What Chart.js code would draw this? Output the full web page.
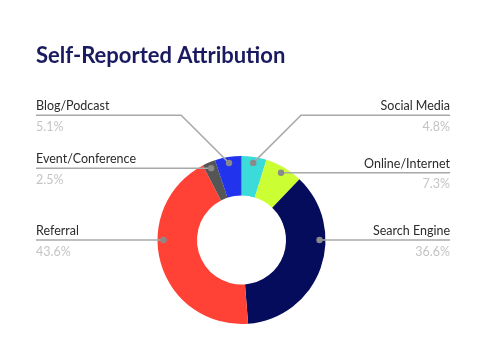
<!DOCTYPE html>
<html>
<head>
<meta charset="utf-8">
<script src="https://cdn.jsdelivr.net/npm/chart.js@4"></script>
<style>
  html, body { margin: 0; padding: 0; background: #fff; }
  #wrap { width: 483px; height: 362px; }
</style>
</head>
<body>
<div id="wrap"><canvas id="attrChart" width="483" height="362"></canvas></div>
<script>
let categories = ["Social Media", "Online/Internet", "Search Engine", "Referral", "Event/Conference", "Blog/Podcast"];
let shares     = [4.8, 7.3, 36.6, 43.6, 2.5, 5.1];
let colors     = ["#3adbd8", "#ccff33", "#050c5c", "#ff4136", "#555555", "#2233ee"];

// outside labels with leader lines, drawn from the arc elements
const outLabels = {
  id: "outLabels",
  afterDraw(chart) {
    let ctx  = chart.ctx;
    let arcs = chart.getDatasetMeta(0).data;
    let leftX = 36, rightX = 450, gap = 53;

    let items = arcs.map((arc, i) => {
      let a = (arc.startAngle + arc.endAngle) / 2;
      // big slices crossing the horizontal get their dot right on it
      [0, Math.PI, Math.PI * 2].forEach(h => {
        if (arc.startAngle < h && arc.endAngle > h) a = h;
      });
      let r  = arc.outerRadius - 6;
      let px = arc.x + Math.cos(a) * r;
      let py = arc.y + Math.sin(a) * r;
      return { i: i, px: px, py: py, y: py, right: px > arc.x };
    });

    // push colliding labels upward, one side at a time
    let pushed = [];
    [true, false].forEach(side => {
      let list = items.filter(it => it.right === side).sort((a, b) => b.py - a.py);
      for (let k = 1; k < list.length; k++) {
        if (list[k - 1].y - list[k].y < gap) {
          list[k].y = list[k - 1].y - gap;
          pushed.push(list[k]);
        }
      }
    });
    if (pushed.length) {
      let top = Math.min(...pushed.map(p => p.y));
      pushed.forEach(p => p.y = top);
    }

    ctx.save();
    items.forEach(it => {
      let endX = it.right ? rightX : leftX;
      ctx.strokeStyle = "#a8a8a8";
      ctx.lineWidth = 1.5;
      ctx.beginPath();
      ctx.moveTo(it.px, it.py);
      let dy = it.py - it.y;
      if (dy > 1) {
        let ex = it.right ? it.px + dy : it.px - dy;
        ctx.lineTo(ex, it.y);
      }
      ctx.lineTo(endX, it.y);
      ctx.stroke();

      ctx.fillStyle = "#8a8a8a";
      ctx.beginPath();
      ctx.arc(it.px, it.py, 3.2, 0, Math.PI * 2);
      ctx.fill();

      ctx.textAlign = it.right ? "right" : "left";
      ctx.textBaseline = "alphabetic";
      ctx.font = "12.5px Lato";
      ctx.fillStyle = "#2b2b2b";
      ctx.fillText(categories[it.i], endX, it.y - 5);
      ctx.fillStyle = "#c4c4c4";
      ctx.fillText(shares[it.i].toFixed(1) + "%", endX, it.y + 15.5);
    });
    ctx.restore();
  }
};

new Chart(document.getElementById("attrChart"), {
  type: "doughnut",
  data: {
    labels: categories,
    datasets: [{
      data: shares,
      backgroundColor: colors,
      borderWidth: 0,
    }]
  },
  options: {
    responsive: false,
    animation: false,
    cutout: "53%",
    layout: { padding: { left: 36, right: 36, top: 0, bottom: 38 } },
    plugins: {
      legend: { display: false },
      tooltip: { enabled: false },
      title: {
        display: true,
        text: "Self-Reported Attribution",
        align: "start",
        color: "#1a1a60",
        font: { family: "Lato", size: 22, weight: "bold" },
        padding: { top: 43, bottom: 86.6 }
      }
    }
  },
  plugins: [outLabels]
});
</script>
</body>
</html>
